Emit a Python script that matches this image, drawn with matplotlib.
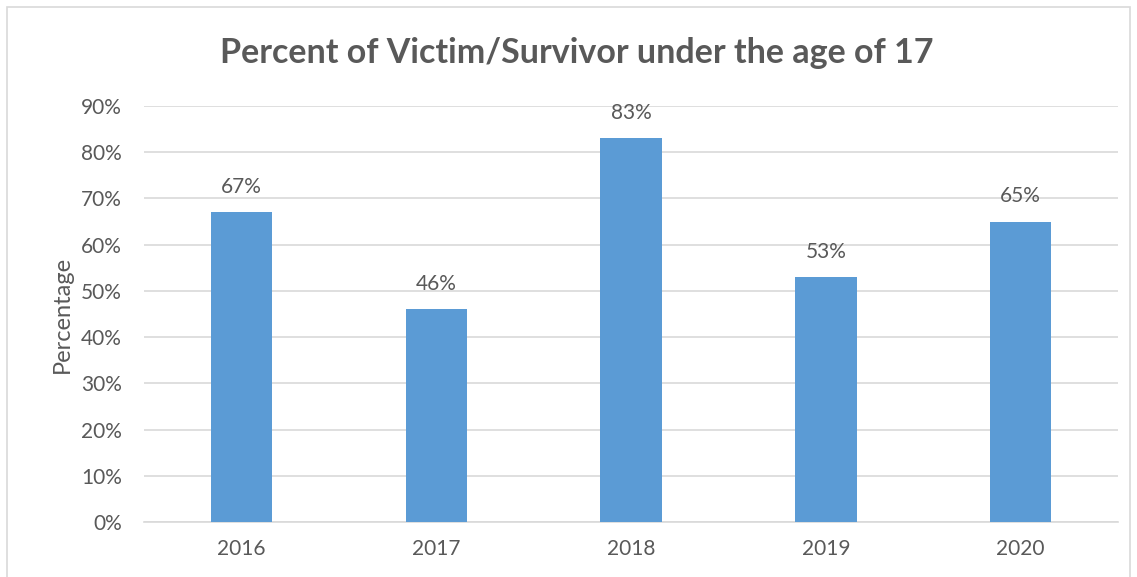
import matplotlib.pyplot as plt
from matplotlib.patches import Rectangle

years = ["2016", "2017", "2018", "2019", "2020"]
pct = [67, 46, 83, 53, 65]
yticks = [0, 10, 20, 30, 40, 50, 60, 70, 80, 90]

txt = "#595959"
plt.rcParams['font.family'] = ['Lato', 'DejaVu Sans']

fig = plt.figure(figsize=(11.37, 5.77), dpi=100)
ax = fig.add_axes([0.1267, 0.0953, 0.8566, 0.721])

# chart border like excel
fig.patches.append(Rectangle((7 / 1137, -0.01), 1123 / 1137, 1 - 7 / 577 + 0.01,
                             transform=fig.transFigure, fill=False,
                             edgecolor="#D9D9D9", linewidth=1.2))

x = range(len(years))
bars = ax.bar(x, pct, width=0.315, color="#5B9BD5", zorder=3)
for b, v in zip(bars, pct):
    ax.annotate(f"{v}%", (b.get_x() + b.get_width() / 2, v), xytext=(0, 11),
                textcoords="offset points", ha="center", va="bottom",
                fontsize=15, color=txt)

ax.set_xlim(-0.5, len(years) - 0.5)
ax.set_ylim(0, 90)
ax.set_yticks(yticks)
ax.set_yticklabels([f"{t}%" for t in yticks])
ax.set_xticks(list(x))
ax.set_xticklabels(years)
ax.grid(axis="y", color="#D9D9D9", linewidth=1.2, zorder=0)
ax.tick_params(axis="both", length=0, labelsize=15, labelcolor=txt)
ax.tick_params(axis="y", pad=16)
ax.tick_params(axis="x", pad=12)
for s in ["top", "right", "left"]:
    ax.spines[s].set_visible(False)
ax.spines["bottom"].set_color("#D9D9D9")
ax.spines["bottom"].set_linewidth(1.2)
ax.set_ylabel("Percentage", fontsize=17, color=txt, labelpad=6)

fig.text(0.5075, 0.908, "Percent of Victim/Survivor under the age of 17",
         ha="center", va="center", fontsize=24.5, fontweight="bold", color=txt)

fig.savefig("out.png", dpi=100)
